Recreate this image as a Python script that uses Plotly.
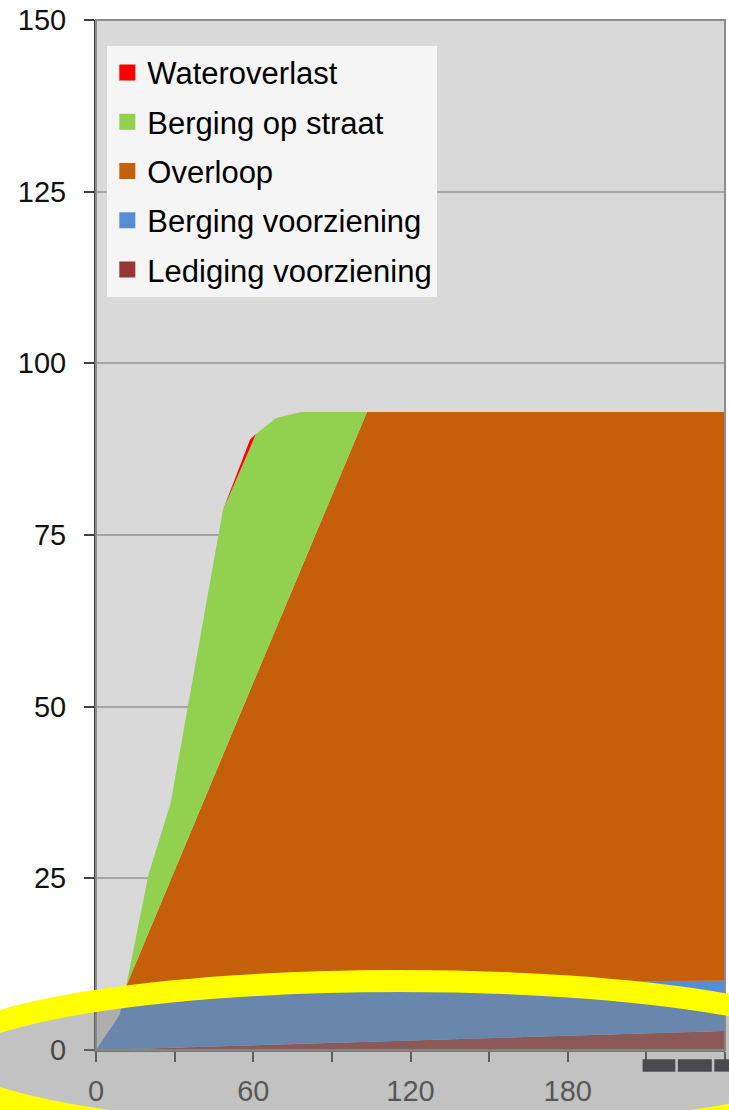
import plotly.graph_objects as go

# tijd (minuten) en gestapelde hoeveelheden
tijd = [0, 9, 11.5, 20, 28.5, 48.4, 58.8, 61, 68.6, 78, 103.4, 240]
lediging_voorziening = [0, 0.1, 0.13, 0.23, 0.33, 0.56, 0.68, 0.7, 0.79, 0.9, 1.19, 2.76]
berging_voorziening = [0, 5.0, 9.17, 9.17, 9.17, 9.04, 9.02, 9.0, 9.01, 8.9, 8.71, 7.34]
overloop = [0, 0, 0, 7.6, 15.3, 33.3, 42.7, 44.7, 51.5, 60.1, 83.0, 82.8]
berging_op_straat = [0, 0, 0, 8.5, 11.2, 35.7, 35.3, 35.3, 30.7, 23.0, 0, 0]
wateroverlast = [0, 0, 0, 0, 0, 0, 1.2, 0, 0, 0, 0, 0]

x_tickvals = [0, 30, 60, 90, 120, 150, 180, 210, 240]
x_ticktext = ["0", "", "60", "", "120", "", "180", "", ""]
y_tickvals = [0, 25, 50, 75, 100, 125, 150]

series = [
    ("Lediging voorziening", lediging_voorziening, "#953735"),
    ("Berging voorziening", berging_voorziening, "#558ED5"),
    ("Overloop", overloop, "#C65F09"),
    ("Berging op straat", berging_op_straat, "#92D050"),
    ("Wateroverlast", wateroverlast, "#FF0000"),
]

fig = go.Figure()

# gestapelde vlakken
for name, values, color in series:
    fig.add_trace(go.Scatter(
        x=tijd, y=values, name=name, stackgroup="a", mode="lines",
        line=dict(width=0, color=color), fillcolor=color,
        showlegend=False, hoverinfo="skip",
    ))

# legenda met vierkantjes, bovenste serie eerst
for name, values, color in reversed(series):
    fig.add_trace(go.Scatter(
        x=[None], y=[None], name=name, mode="markers", legendgroup=name,
        marker=dict(symbol="square", size=17, color=color),
    ))

fnt = "Arial, Liberation Sans, sans-serif"

fig.update_layout(
    width=729, height=1110,
    margin=dict(l=96, r=4, t=20, b=60),
    paper_bgcolor="white",
    plot_bgcolor="#D9D9D9",
    font=dict(family=fnt, size=30, color="#1a1a1a"),
    legend=dict(
        x=0.018, y=0.975, xanchor="left", yanchor="top",
        bgcolor="#F5F5F5", borderwidth=0,
        font=dict(size=31, color="black"),
        traceorder="grouped", itemwidth=30, tracegroupgap=6,
    ),
    shapes=[
        # kader rond plotgebied
        dict(type="rect", xref="paper", yref="paper", x0=0, x1=1, y0=0, y1=1,
             line=dict(color="#8C8C8C", width=2), layer="above"),
        # grijze ovaal met gele rand
        dict(type="circle", xref="paper", yref="paper",
             x0=-0.2448, x1=1.2114, y0=-0.0864, y1=0.067,
             fillcolor="rgba(128,128,128,0.48)",
             line=dict(color="#FFFF00", width=22), layer="above"),
        # donkere blokjes rechtsonder
        dict(type="rect", xref="paper", yref="paper",
             x0=0.869, x1=0.921, y0=-0.021, y1=-0.009,
             fillcolor="#4a4a4e", line=dict(width=0), layer="above"),
        dict(type="rect", xref="paper", yref="paper",
             x0=0.925, x1=0.979, y0=-0.021, y1=-0.009,
             fillcolor="#4a4a4e", line=dict(width=0), layer="above"),
        dict(type="rect", xref="paper", yref="paper",
             x0=0.983, x1=1.01, y0=-0.021, y1=-0.009,
             fillcolor="#4a4a4e", line=dict(width=0), layer="above"),
    ],
)

fig.update_xaxes(
    range=[0, 240], tickvals=x_tickvals, ticktext=x_ticktext,
    ticks="outside", ticklen=10, tickwidth=1.5, tickcolor="#404040",
    showline=True, linecolor="#6b6b6b", linewidth=2,
    showgrid=False, zeroline=False,
    ticklabelstandoff=4,
    tickfont=dict(size=29, color="#333333"),
)
fig.update_yaxes(
    range=[0, 150], tickvals=y_tickvals,
    ticks="outside", ticklen=10, tickwidth=1.5, tickcolor="#404040",
    showline=True, linecolor="#404040", linewidth=2,
    showgrid=True, gridcolor="#A6A6A6", gridwidth=1.5, zeroline=False,
    ticklabelstandoff=12,
    tickfont=dict(size=29, color="#111111"),
)

fig.write_html("out.html", config={"displayModeBar": False},
               post_script="document.body.style.margin='0';")
